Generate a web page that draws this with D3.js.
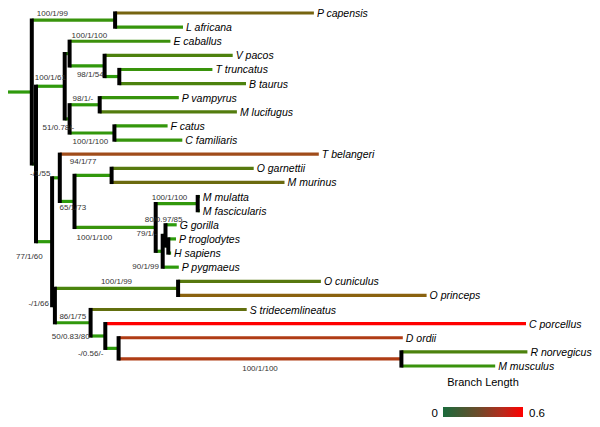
<!DOCTYPE html>
<html><head><meta charset="utf-8">
<script src="https://cdn.jsdelivr.net/npm/d3@7"></script>
<style>body{margin:0;background:#fff}</style>
</head><body>
<svg id="chart" width="600" height="427"></svg>
<script>
// ---- tree data ----
const nodeIds = ["root","Afro","P capensis","L africana","N2","Laur","A","E caballus","Cet","V pacos","TB","T truncatus","B taurus","B","Chiro","P vampyrus","M lucifugus","Carn","F catus","C familiaris","N3","Euarch","T belangeri","Prim","Strep","O garnettii","M murinus","Catar","Cerc","M mulatta","M fascicularis","Hd","HG","G gorilla","HP","P troglodytes","H sapiens","P pygmaeus","Glires","Lago","O cuniculus","O princeps","Rod","S tridecemlineatus","R2","C porcellus","R3","D ordii","Mur","R norvegicus","M musculus"];
const parentIds = ["","root","Afro","Afro","root","N2","Laur","A","A","Cet","Cet","TB","TB","Laur","B","Chiro","Chiro","B","Carn","Carn","N2","N3","Euarch","Euarch","Prim","Strep","Strep","Prim","Catar","Cerc","Cerc","Catar","Hd","HG","HG","HP","HP","Hd","N3","Glires","Lago","Lago","Glires","Rod","Rod","R2","R2","R3","R3","Mur","Mur"];
const branchLengths = [0.034,0.119,0.284,0.097,0.006,0.041,0.007,0.144,0.05,0.183,0.021,0.133,0.181,0.007,0.043,0.113,0.196,0.064,0.076,0.097,0.023,0.011,0.37,0.021,0.053,0.203,0.247,0.116,0.06,0.003,0.003,0.01,0.004,0.016,0.004,0.011,0.004,0.023,0.004,0.176,0.204,0.355,0.051,0.223,0.021,0.601,0.019,0.406,0.404,0.18,0.134];
const supportLabels = {
  Afro:"100/1/99", Laur:"100/1/61", A:"100/1/100", Cet:"98/1/54", Chiro:"98/1/-", B:"51/0.78/-",
  Carn:"100/1/100", N2:"-/1/55", Euarch:"94/1/77", Prim:"65/1/73", Catar:"100/1/100", Cerc:"100/1/100",
  Hd:"80/0.97/85", HG:"79/1/-", HP:"90/1/99", N3:"77/1/60", Glires:"-/1/66", Lago:"100/1/99",
  Rod:"86/1/75", R2:"50/0.83/80", R3:"-/0.56/-", Mur:"100/1/100"
};
const legendTicks = [0, 0.6];
const legendTitle = "Branch Length";

// ---- label placement (anchor, reference: p=parent x, n=node x, m=branch middle, dx, dy) ----
const supportPlacement = {
  Afro:["start","p",5,-4], Laur:["middle","m",0,-6], A:["start","n",2,-16], Cet:["end","n",-1,11],
  Chiro:["start","p",3,-4], B:["start","n",-27,11], Carn:["start","p",3,11], N2:["start","n",-6,12],
  Euarch:["start","n",10,-14], Prim:["start","n",-15,9], Catar:["start","p",2,13], Cerc:["start","p",-4,-4],
  Hd:["start","n",-18,-29], HG:["start","n",-29,1], HP:["start","n",-36,23], N3:["start","p",-20,17],
  Glires:["end","n",-6,0], Lago:["middle","m",0,-4], Rod:["middle","m",0,-4], R2:["end","p",-1,3],
  R3:["end","p",-2,8], Mur:["middle","m",0,12]
};

const rows = nodeIds.map((id,i)=>({id, parent: parentIds[i] || null, len: branchLengths[i]}));
const root = d3.stratify().id(d=>d.id).parentId(d=>d.parent)(rows);

root.each(n=>{ n.depth2 = (n.parent ? n.parent.depth2 : 0) + n.data.len; });
const leaves = root.leaves();
const leafNames = leaves.map(d=>d.id);

const x = d3.scaleLinear().domain([0, 0.75]).range([8, 533]);
const y = d3.scalePoint().domain(leafNames).range([13, 366]);

root.eachAfter(n=>{
  if (!n.children) n.py = y(n.id);
  else n.py = (n.children[0].py + n.children[n.children.length-1].py)/2;
  n.px = x(n.depth2);
});

const color = d3.scaleLinear()
  .domain([0, 0.14, 0.2, 0.23, 0.285, 0.355, 0.37, 0.41, 0.6])
  .range(["#2c9c0c","#3a920c","#557a0e","#666c0e","#766410","#8a620f","#a04c1a","#b23a14","#ff0000"])
  .clamp(true);

const svg = d3.select("#chart");
const gH = svg.append("g");
const gV = svg.append("g");
const gT = svg.append("g");

root.each(n=>{
  const x0 = n.parent ? n.parent.px : x(0);
  gH.append("line").attr("x1",x0).attr("x2",n.px).attr("y1",n.py).attr("y2",n.py)
    .attr("stroke",color(n.data.len)).attr("stroke-width",3.2);
  if (n.children) {
    const c = n.children;
    gV.append("line").attr("x1",n.px).attr("x2",n.px)
      .attr("y1",c[0].py-1.6).attr("y2",c[c.length-1].py+1.6)
      .attr("stroke","#000").attr("stroke-width",4);
  } else {
    gT.append("text").attr("x",n.px+3).attr("y",n.py+4)
      .attr("font-family","Liberation Sans, Arial, sans-serif").attr("font-size",10.5)
      .attr("font-style","italic").attr("fill","#000").text(n.id);
  }
  if (supportLabels[n.id]) {
    const [anchor, ref, dx, dy] = supportPlacement[n.id];
    const bx = ref==="p" ? n.parent.px : ref==="n" ? n.px : (n.parent.px+n.px)/2;
    gT.append("text").attr("x",bx+dx).attr("y",n.py+dy).attr("text-anchor",anchor)
      .attr("font-family","Liberation Sans, Arial, sans-serif").attr("font-size",8)
      .attr("fill","#333").text(supportLabels[n.id]);
  }
});

// ---- legend ----
const defs = svg.append("defs");
const grad = defs.append("linearGradient").attr("id","lg");
[["0%","#1b6b3c"],["45%","#6e4a2a"],["75%","#b82a1c"],["100%","#ff0000"]].forEach(s=>
  grad.append("stop").attr("offset",s[0]).attr("stop-color",s[1]));
const lx = d3.scaleLinear().domain(legendTicks).range([443, 523]);
const lg = svg.append("g");
lg.append("rect").attr("x",lx(0)).attr("y",407).attr("width",lx(0.6)-lx(0)).attr("height",10).attr("fill","url(#lg)");
lg.append("text").attr("x",(lx(0)+lx(0.6))/2).attr("y",386).attr("text-anchor","middle")
  .attr("font-family","Liberation Sans, Arial, sans-serif").attr("font-size",11).text(legendTitle);
lg.append("text").attr("x",lx(0)-5).attr("y",417).attr("text-anchor","end")
  .attr("font-family","Liberation Sans, Arial, sans-serif").attr("font-size",11.5).text(legendTicks[0]);
lg.append("text").attr("x",lx(0.6)+6).attr("y",417).attr("text-anchor","start")
  .attr("font-family","Liberation Sans, Arial, sans-serif").attr("font-size",11.5).text(legendTicks[1]);
</script>
</body></html>
